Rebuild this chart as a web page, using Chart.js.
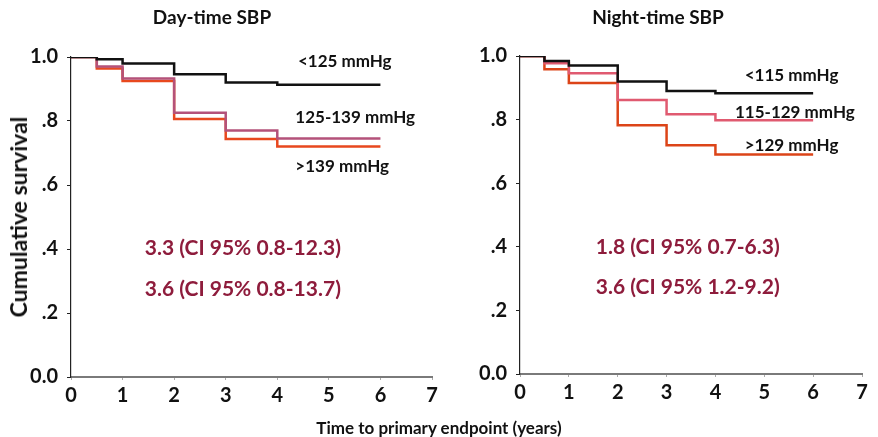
<!DOCTYPE html>
<html>
<head>
<meta charset="utf-8">
<script src="https://cdn.jsdelivr.net/npm/chart.js@4.4.1/dist/chart.umd.min.js"></script>
<style>
  html, body { margin: 0; padding: 0; background: #fff; }
  body { width: 878px; height: 437px; position: relative; overflow: hidden; font-family: Lato, "Open Sans", sans-serif; }
  .panel { position: absolute; top: 0; height: 437px; }
  #left { left: 0; width: 445px; }
  #right { left: 445px; width: 433px; }
  .title { position: absolute; top: 5px; font-weight: bold; font-size: 19px; color: #111; white-space: nowrap; transform: translateX(-50%); }
  #ytitle { position: absolute; left: 18px; top: 217px; font-weight: bold; font-size: 23px; color: #111; white-space: nowrap; transform: translate(-50%, -50%) rotate(-90deg); }
  #xtitle { position: absolute; left: 439px; top: 417px; font-weight: bold; font-size: 17px; color: #111; white-space: nowrap; transform: translateX(-50%); }
</style>
</head>
<body>
<div class="panel" id="left"><canvas id="dayChart"></canvas></div>
<div class="panel" id="right"><canvas id="nightChart"></canvas></div>
<div class="title" style="left:212px">Day-time SBP</div>
<div class="title" style="left:658px">Night-time SBP</div>
<div id="ytitle">Cumulative survival</div>
<div id="xtitle">Time to primary endpoint (years)</div>
<script>
// follow-up times (years) at which survival steps down
const years = [0, 0.5, 1, 2, 3, 4, 6];

// day-time SBP groups
const dayLow = [1, 0.993, 0.98, 0.946, 0.92, 0.913, 0.913];   // <125 mmHg
const dayMid = [1, 0.97, 0.933, 0.826, 0.77, 0.745, 0.745];   // 125-139 mmHg
const dayHigh = [1, 0.964, 0.925, 0.806, 0.744, 0.72, 0.72];  // >139 mmHg

// night-time SBP groups
const nightLow = [1, 0.984, 0.97, 0.92, 0.89, 0.883, 0.883];  // <115 mmHg
const nightMid = [1, 0.977, 0.946, 0.862, 0.817, 0.798, 0.798]; // 115-129 mmHg
const nightHigh = [1, 0.958, 0.915, 0.782, 0.719, 0.69, 0.69];  // >129 mmHg

const dayGroups = ['<125 mmHg', '125-139 mmHg', '>139 mmHg'];
const nightGroups = ['<115 mmHg', '115-129 mmHg', '>129 mmHg'];

const dayHazard = ['3.3 (CI 95% 0.8-12.3)', '3.6 (CI 95% 0.8-13.7)'];
const nightHazard = ['1.8 (CI 95% 0.7-6.3)', '3.6 (CI 95% 1.2-9.2)'];

const FONT = 'Lato, "Open Sans", sans-serif';

const toPoints = values => values.map((v, i) => ({ x: years[i], y: v }));

// text placed in data coordinates of the panel
const notesPlugin = {
    id: 'notes',
    afterDatasetsDraw(chart) {
        const notes = chart.options.plugins.notes?.items || [];
        const { ctx, scales: { x, y } } = chart;
        ctx.save();
        ctx.textBaseline = 'middle';
        ctx.textAlign = 'left';
        for (const n of notes) {
            ctx.font = `bold ${n.size}px ${FONT}`;
            ctx.fillStyle = n.color;
            ctx.fillText(n.text, x.getPixelForValue(n.x), y.getPixelForValue(n.y));
        }
        ctx.restore();
    }
};

function makeChart(id, series, colors, labels, notes, layout) {
    return new Chart(document.getElementById(id), {
        type: 'line',
        data: {
            datasets: series.map((s, i) => ({
                label: labels[i],
                data: toPoints(s),
                stepped: 'before',
                borderColor: colors[i],
                borderWidth: 2.5,
                pointRadius: 0,
                fill: false
            }))
        },
        options: {
            responsive: true,
            maintainAspectRatio: false,
            animation: false,
            layout: { padding: layout.padding },
            plugins: {
                legend: { display: false },
                tooltip: { enabled: false },
                notes: { items: notes }
            },
            scales: {
                x: {
                    type: 'linear',
                    min: 0,
                    max: 7,
                    afterFit: scale => { scale.height = layout.xHeight; },
                    border: { color: '#7a7a7a', width: 2 },
                    grid: { drawOnChartArea: false, tickLength: 3, color: '#aaa' },
                    ticks: {
                        stepSize: 1,
                        padding: 4,
                        color: '#111',
                        font: { family: FONT, size: 20, weight: 'bold' }
                    }
                },
                y: {
                    min: 0,
                    max: 1,
                    afterFit: scale => { scale.width = layout.yWidth; },
                    border: { color: '#222', width: 1.2 },
                    grid: { drawOnChartArea: false, tickLength: 4, color: '#222' },
                    ticks: {
                        stepSize: 0.2,
                        padding: 9,
                        color: '#111',
                        font: { family: FONT, size: 20, weight: 'bold' },
                        callback: v => (v === 0 || v === 1) ? v.toFixed(1) : v.toFixed(1).replace(/^0/, '')
                    }
                }
            }
        },
        plugins: [notesPlugin]
    });
}

const labelColor = '#111';
const hazardColor = '#8e1c3c';

makeChart('dayChart',
    [dayLow, dayMid, dayHigh],
    ['#111111', '#b4527a', '#e8481e'],
    dayGroups,
    [
        { text: dayGroups[0], x: 4.4, y: 0.985, size: 17, color: labelColor },
        { text: dayGroups[1], x: 4.35, y: 0.81, size: 17, color: labelColor },
        { text: dayGroups[2], x: 4.35, y: 0.658, size: 17, color: labelColor },
        { text: dayHazard[0], x: 1.43, y: 0.403, size: 21, color: hazardColor },
        { text: dayHazard[1], x: 1.43, y: 0.275, size: 21, color: hazardColor }
    ],
    { padding: { top: 57, right: 13, left: 0, bottom: 0 }, xHeight: 60, yWidth: 71 }
);

makeChart('nightChart',
    [nightLow, nightMid, nightHigh],
    ['#111111', '#e05a70', '#dc4418'],
    nightGroups,
    [
        { text: nightGroups[0], x: 4.6, y: 0.94, size: 17, color: labelColor },
        { text: nightGroups[1], x: 4.4, y: 0.823, size: 17, color: labelColor },
        { text: nightGroups[2], x: 4.6, y: 0.718, size: 17, color: labelColor },
        { text: nightHazard[0], x: 1.55, y: 0.4, size: 21, color: hazardColor },
        { text: nightHazard[1], x: 1.55, y: 0.272, size: 21, color: hazardColor }
    ],
    { padding: { top: 56, right: 16, left: 0, bottom: 0 }, xHeight: 63, yWidth: 75 }
);
</script>
</body>
</html>
